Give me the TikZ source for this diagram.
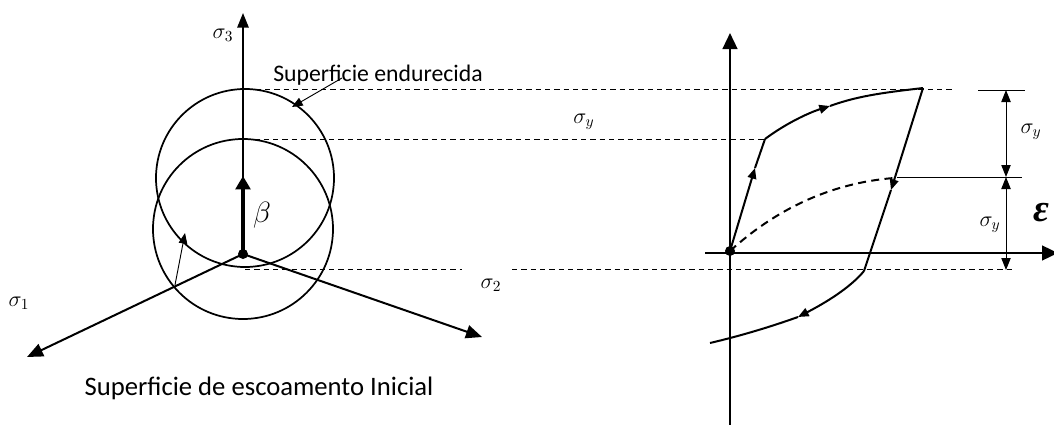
\RequirePackage{fix-cm}
\documentclass[tikz,border=0pt]{standalone}
\usepackage{fontspec}
\setmainfont{Carlito}
\newfontfamily\epsfont{Liberation Serif}
\usetikzlibrary{arrows.meta}
\begin{document}
\begin{tikzpicture}[x=0.75pt,y=-0.75pt,
  axis/.style={line width=1.5pt,-{Triangle[length=11pt,width=8.5pt]}},
  bigaxis/.style={line width=1.8pt,-{Triangle[length=12pt,width=11pt]}},
  circ/.style={line width=1.3pt},
  guide/.style={line width=0.75pt,dash pattern=on 4pt off 3pt},
  thinline/.style={line width=0.75pt},
  curveline/.style={line width=1.5pt},
  midtip/.style={line width=1.5pt,-{Triangle[length=8pt,width=6.5pt]}},
  dimarrow/.style={line width=0.75pt,{Triangle[length=9pt,width=7pt]}-{Triangle[length=9pt,width=7pt]}},
  lbl/.style={inner sep=0pt,font=\fontsize{16.5}{18}\selectfont},
  dotnode/.style={circle,fill,inner sep=0pt,minimum size=7.5pt},
  pointer/.style={line width=0.7pt,-{Triangle[length=8pt,width=6.5pt]}}
]
\clip (0,0) rectangle (1054,425);
\useasboundingbox (0,0) rectangle (1054,425);

% ---------- left: principal stress space ----------
\coordinate (O1) at (243,254);
\coordinate (S3) at (243,13);
\coordinate (S1) at (27,357);
\coordinate (S2) at (482,337);
\coordinate (B) at (243,176);

\draw[circ] (245,178) circle[radius=66.75pt];
\draw[circ] (243,229) circle[radius=67.5pt];

\draw[axis] (O1) -- (S3);
\draw[axis,-{Triangle[length=12pt,width=10pt]}] (O1) -- (S1);
\draw[axis,-{Triangle[length=12pt,width=10pt]}] (O1) -- (S2);
\draw[line width=3pt,-{Triangle[length=10pt,width=11pt]}] (O1) -- (B);
\node[dotnode] (dotL) at (O1) {};

\node[lbl] (l3) at (223,35) {$\sigma_3$};
\node[lbl] (l1) at (19,303) {$\sigma_1$};
\node[lbl] (l2) at (491,285) {$\sigma_2$};
\node[inner sep=0pt,font=\fontsize{22}{24}\selectfont] (lb) at (262,215) {$\beta$};

\node[anchor=base,inner sep=0pt,font=\fontsize{17.8}{20}\selectfont] (tEnd) at (378,81) {Superficie endurecida};
\coordinate (pA) at (342,78);
\coordinate (pB) at (292,107);
\draw[pointer] (pA) -- (pB);

\node[anchor=base,inner sep=0pt,font=\fontsize{20}{24}\selectfont] (tIni) at (259,395) {Superficie de escoamento Inicial};
\coordinate (qA) at (175,285);
\coordinate (qB) at (185,233);
\draw[pointer] (qA) -- (qB);

% ---------- dashed guide lines ----------
\coordinate (g1a) at (237,89);  \coordinate (g1b) at (952,89);
\coordinate (g2a) at (245,139); \coordinate (g2b) at (765,139);
\coordinate (g3a) at (245,269); \coordinate (g3b) at (462,269);
\coordinate (g3c) at (512,269); \coordinate (g3d) at (1015,269);
\draw[guide] (g1a) -- (g1b);
\draw[guide] (g2a) -- (g2b);
\draw[guide] (g3a) -- (g3b);
\draw[guide] (g3c) -- (g3d);
\node[lbl] (ly1) at (584,122) {$\sigma_y$};

% ---------- right: stress-strain ----------
\coordinate (O2) at (730,251);
\coordinate (Vt) at (730,33);
\coordinate (Vb) at (730,430);
\coordinate (Hl) at (705,253);
\coordinate (Hr) at (1058,253);
\draw[bigaxis] (Vb) -- (Vt);
\draw[bigaxis] (Hl) -- (Hr);

\coordinate (Y1) at (765,139);
\coordinate (A1) at (755,168);
\coordinate (A2) at (830,106);
\coordinate (P) at (923,88);
\coordinate (A3) at (891,190);
\coordinate (C) at (864,271);
\coordinate (A4) at (798,317);
\coordinate (E) at (710,343);
\coordinate (D) at (894,178);

\draw[midtip] (O2) -- (A1);
\draw[curveline] (A1) -- (Y1);
\draw[midtip] (Y1) .. controls (785,124) and (808,113) .. (A2);
\draw[curveline] (A2) .. controls (860,95) and (890,92) .. (P);
\draw[midtip] (P) -- (A3);
\draw[curveline] (A3) -- (C);
\draw[midtip] (C) .. controls (850,288) and (825,303) .. (A4);
\draw[curveline] (A4) .. controls (770,327) and (740,336) .. (E);
\draw[curveline,dash pattern=on 6pt off 4pt] (O2) .. controls (775,210) and (830,183) .. (D);
\node[dotnode] (dotR) at (O2) {};

\coordinate (t1a) at (978,90);  \coordinate (t1b) at (1025,90);
\coordinate (t2a) at (897,177); \coordinate (t2b) at (1022,177);
\draw[thinline] (t1a) -- (t1b);
\draw[thinline] (t2a) -- (t2b);
\coordinate (d1) at (1006,90);
\coordinate (d2) at (1006,177);
\coordinate (d3) at (1006,270);
\draw[dimarrow] (d1) -- (d2);
\draw[dimarrow] (d2) -- (d3);
\node[lbl] (ly2) at (1031,132) {$\sigma_y$};
\node[lbl] (ly3) at (990,225) {$\sigma_y$};
\node[anchor=base west,inner sep=0pt,font=\epsfont\fontsize{29}{32}\selectfont\bfseries\itshape] (eps) at (1033,221) {ε};
\end{tikzpicture}
\end{document}
